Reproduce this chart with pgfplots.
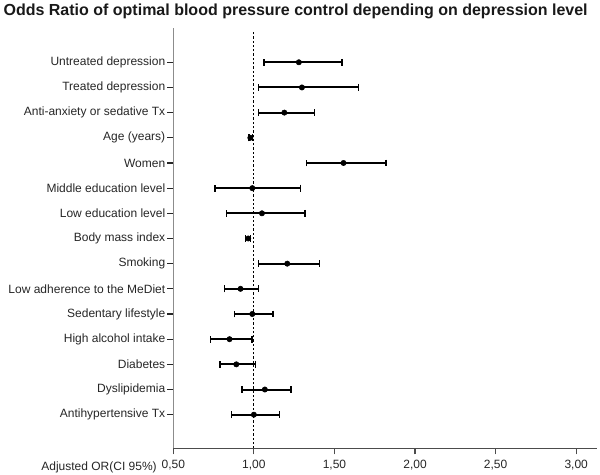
\documentclass[border=0pt]{standalone}
\usepackage{pgfplots}
\usepackage{pgfplotstable}
\pgfplotsset{compat=1.18}
\usepackage{fontspec}
\setmainfont{Liberation Sans}

\pgfplotstableread{
pos lo or hi
15 1.062 1.279 1.548
14 1.029 1.298 1.648
13 1.029 1.189 1.377
12 0.969 0.978 0.992
11 1.327 1.556 1.819
10 0.758 0.990 1.288
9  0.831 1.050 1.316
8  0.949 0.965 0.978
7  1.029 1.207 1.408
6  0.818 0.917 1.029
5  0.880 0.990 1.118
4  0.730 0.849 0.990
3  0.789 0.891 1.011
2  0.928 1.068 1.232
1  0.860 1.000 1.159
}\datatable

\begin{document}
\begin{tikzpicture}
\useasboundingbox (0,0) rectangle (450pt,356.25pt);
\begin{axis}[
  at={(129.975pt,20.025pt)}, anchor=south west,
  scale only axis, width=317.55pt, height=315pt,
  xmin=0.5, xmax=3.127, ymin=-0.335, ymax=16.35,
  axis x line*=bottom, axis y line*=left,
  x axis line style={-, draw=black!70, line width=0.9pt},
  y axis line style={-, draw=black!45, line width=0.9pt},
  xtick={0.5,1,1.5,2,2.5,3},
  ytick={1,...,15},
  yticklabels={Antihypertensive Tx, Dyslipidemia, Diabetes, High alcohol intake, Sedentary lifestyle, Low adherence to the MeDiet, Smoking, Body mass index, Low education level, Middle education level, Women, Age (years), Anti-anxiety or sedative Tx, Treated depression, Untreated depression},
  tick align=outside,
  major tick length=4.5pt,
  x tick style={draw=black!70, line width=0.9pt},
  y tick style={draw=black!85, line width=0.8pt},
  tick label style={font=\fontsize{9pt}{10pt}\selectfont, text=black!85},
  xticklabel style={yshift=-1pt},
  yticklabel style={xshift=2pt},
  /pgf/number format/.cd, fixed, fixed zerofill, precision=2, use comma, assume math mode=true,
]
\addplot[black, dash pattern=on 1.7pt off 1.5pt, line width=0.75pt] coordinates {(1,-0.335) (1,16.22)};
\addplot[only marks, mark=*, mark size=2pt, black,
  error bars/.cd, x dir=both, x explicit,
  error bar style={line width=1.5pt, black, solid},
  error mark=|,
  error mark options={line width=1.2pt, mark size=2.6pt, black, solid}]
  table[x=or, y=pos, x error plus expr=\thisrow{hi}-\thisrow{or}, x error minus expr=\thisrow{or}-\thisrow{lo}] {\datatable};
\end{axis}
\node[anchor=base west, font=\bfseries\fontsize{12pt}{14pt}\selectfont, inner sep=0pt, text=black!90] at (2.5pt,344.6pt) {Odds Ratio of optimal blood pressure control depending on depression level};
\node[anchor=base east, font=\fontsize{9pt}{10pt}\selectfont, inner sep=0pt, text=black!85] at (117.75pt,3.75pt) {Adjusted OR(CI 95\%)};
\end{tikzpicture}
\end{document}
